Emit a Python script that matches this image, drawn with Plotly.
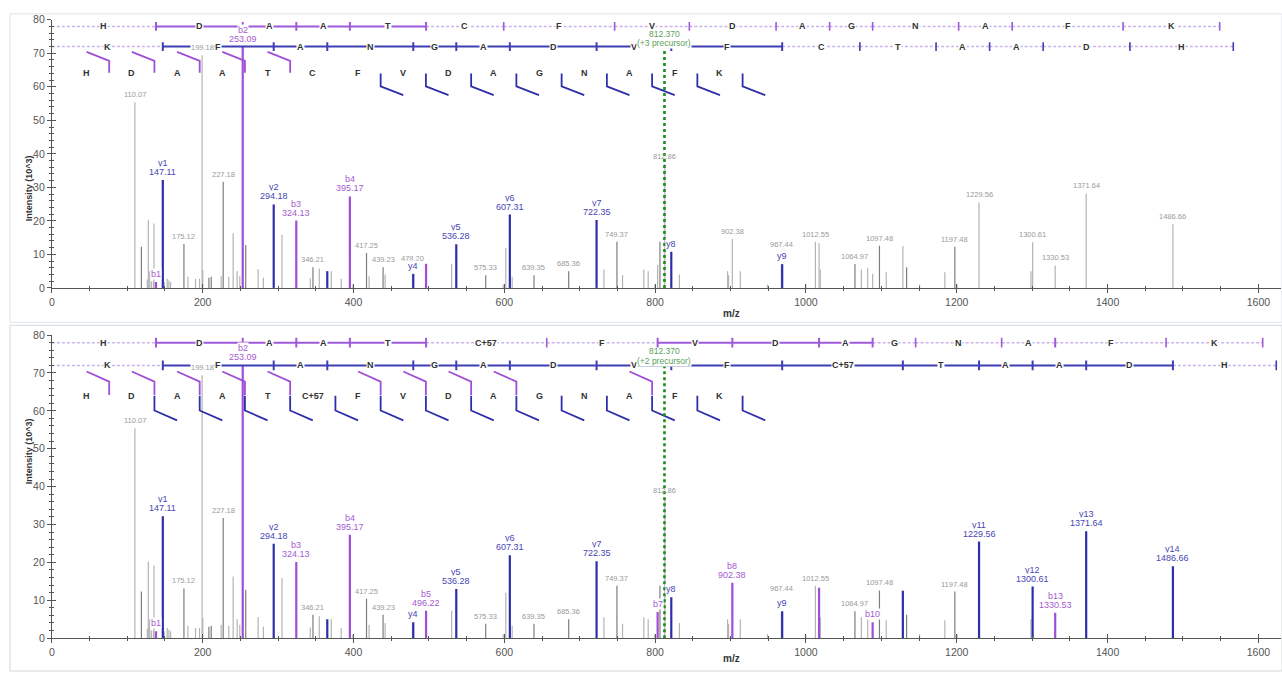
import plotly.graph_objects as go

FIG_W, FIG_H = 1282, 679
FONT = "Arial"

# ---------------- spectrum (same peaks in both panels) ----------------
peak_mz = [110.07, 118.7, 126.6, 127.9, 129.7, 131.9, 134.6, 135.4, 138.07, 147.11,
           149.0, 153.0, 155.2, 157.4, 175.12, 180.4, 190.5, 195.8, 199.18, 200.1,
           208.2, 211.3, 224.5, 227.18, 234.6, 240.4, 245.7, 249.2, 253.09, 257.1,
           273.5, 280.5, 294.18, 305.2, 324.13, 342.7, 346.21, 354.6, 365.22, 370.5,
           383.7, 395.17, 399.2, 417.25, 420.7, 439.23, 441.9, 478.20, 479.26, 496.22,
           530.2, 536.28, 575.33, 598.5, 602.0, 607.31, 610.4, 639.35, 685.36, 722.35,
           732.1, 749.37, 756.8, 785.0, 790.8, 799.5, 803.32, 806.4, 812.86, 821.42,
           832.2, 896.1, 897.4, 902.38, 912.9, 949.0, 967.44, 968.49, 999.9, 1012.55,
           1017.41, 1019.0, 1064.97, 1073.5, 1081.9, 1088.45, 1097.48, 1106.5, 1128.52, 1133.5,
           1150.7, 1184.2, 1197.48, 1200.5, 1229.56, 1298.4, 1300.61, 1330.53, 1371.64, 1486.66]
peak_int = [55.4, 12.3, 2.5, 20.2, 5.0, 2.0, 2.0, 19.2, 1.8, 32.2,
            1.8, 2.7, 2.2, 1.8, 13.1, 3.3, 2.7, 2.7, 69.4, 5.3,
            3.0, 3.3, 3.5, 31.7, 3.3, 16.3, 5.0, 3.5, 72.0, 12.8,
            5.6, 3.0, 24.9, 15.9, 20.1, 2.8, 6.2, 5.8, 5.0, 5.0,
            2.7, 27.3, 1.0, 10.4, 3.5, 6.2, 4.0, 4.0, 4.2, 7.2,
            7.2, 13.0, 3.8, 1.0, 12.0, 21.9, 3.3, 3.8, 5.0, 20.3,
            5.5, 13.8, 3.8, 5.5, 5.0, 1.0, 6.9, 13.8, 37.0, 10.8,
            4.0, 5.0, 3.8, 14.6, 5.0, 1.0, 6.8, 7.1, 1.0, 13.8,
            13.3, 5.5, 7.1, 5.5, 5.9, 4.2, 12.6, 4.7, 12.5, 6.2,
            1.0, 4.7, 12.3, 1.0, 25.5, 5.0, 13.6, 6.7, 28.2, 19.0]
# peaks drawn in a darker grey
dark_grey_mz = [118.7, 175.12, 208.2, 211.3, 227.18, 257.1, 346.21, 417.25, 439.23, 575.33,
                639.35, 685.36, 749.37, 806.4, 1064.97, 1097.48, 1133.5, 1197.48]

precursor_mz = 812.370
precursor_label = ["(+3 precursor)", "(+2 precursor)"]

# ---------------- peptide / fragment ladders ----------------
residues_top = ["H", "D", "A", "A", "T", "C", "F", "V", "D", "A", "G", "N", "A", "F", "K"]
residues_bot = ["H", "D", "A", "A", "T", "C+57", "F", "V", "D", "A", "G", "N", "A", "F", "K"]
b_ladder_top = [0, 138.07, 253.09, 324.13, 395.17, 496.22, 599.22, 746.29, 845.36, 960.39,
                1031.43, 1088.45, 1202.49, 1273.53, 1420.60, 1548.69]
y_ladder_top = [0, 147.11, 294.18, 365.22, 479.26, 536.28, 607.32, 722.35, 821.42, 968.48,
                1071.49, 1172.54, 1243.58, 1314.62, 1429.64, 1566.70]
b_ladder_bot = [0, 138.07, 253.09, 324.13, 395.17, 496.22, 656.25, 803.31, 902.38, 1017.41,
                1088.45, 1145.47, 1259.51, 1330.55, 1477.62, 1605.71]
y_ladder_bot = [0, 147.11, 294.18, 365.22, 479.26, 536.28, 607.32, 722.35, 821.42, 968.48,
                1128.52, 1229.56, 1300.60, 1371.64, 1486.66, 1623.72]

# matched ions: name, peak m/z, name shown, m/z shown
top_b_names = ["b1", "b2", "b3", "b4", "b5"]
top_b_mz = [138.07, 253.09, 324.13, 395.17, 496.22]
top_b_show_name = [True, True, True, True, False]
top_b_show_mz = [False, True, True, True, False]
top_y_names = ["y1", "y2", "y3", "y4", "y5", "y6", "y7", "y8", "y9"]
top_y_mz = [147.11, 294.18, 365.22, 479.26, 536.28, 607.31, 722.35, 821.42, 968.49]
top_y_show_name = [True, True, False, True, True, True, True, True, True]
top_y_show_mz = [True, True, False, False, True, True, True, False, False]

bot_b_names = ["b1", "b2", "b3", "b4", "b5", "b7", "b8", "b9", "b10", "b13"]
bot_b_mz = [138.07, 253.09, 324.13, 395.17, 496.22, 803.32, 902.38, 1017.41, 1088.45, 1330.53]
bot_b_show_name = [True, True, True, True, True, True, True, False, True, True]
bot_b_show_mz = [False, True, True, True, True, False, True, False, False, True]
bot_y_names = ["y1", "y2", "y3", "y4", "y5", "y6", "y7", "y8", "y9", "y10", "y11", "y12", "y13", "y14"]
bot_y_mz = [147.11, 294.18, 365.22, 479.26, 536.28, 607.31, 722.35, 821.42, 968.49, 1128.52,
            1229.56, 1300.61, 1371.64, 1486.66]
bot_y_show_name = [True, True, False, True, True, True, True, True, True, False, True, True, True, True]
bot_y_show_mz = [True, True, False, False, True, True, True, False, False, False, True, True, True, True]

grey_label_mz_top = [110.07, 175.12, 199.18, 227.18, 346.21, 417.25, 439.23, 478.20, 575.33,
                     639.35, 685.36, 749.37, 812.86, 902.38, 967.44, 1012.55, 1064.97, 1097.48,
                     1197.48, 1229.56, 1300.61, 1330.53, 1371.64, 1486.66]
grey_label_mz_bot = [110.07, 175.12, 199.18, 227.18, 346.21, 417.25, 439.23, 575.33, 639.35,
                     685.36, 749.37, 812.86, 967.44, 1012.55, 1064.97, 1097.48, 1197.48]
stacked_top = {478.20: 9, 967.44: 13}
stacked_bot = {967.44: 16}

# ---------------- styles ----------------
C_GREY = "#b4b4b4"
C_GREY_DARK = "#7d7d7d"
C_GREY_TXT = "#9a9a9a"
C_BLUE = "#2e2eaa"
C_PURPLE = "#a04ed6"
C_BLUE_TXT = "#4646b4"
C_PURPLE_TXT = "#a55bd0"
C_ROW_B = "#9e5ad8"
C_ROW_Y = "#3e3eb4"
C_ROW_DASH = "#c9b5ec"
C_GREEN = "#1e8c1e"
AXIS_C = "#555555"
ROW_DASH = "3px,2px"

X_RANGE = [0, 1630]
XDOM = [49 / FIG_W, 1281 / FIG_W]
YDOM_TOP = [1 - 287 / FIG_H, 1 - 14 / FIG_H]
YDOM_BOT = [1 - 643.5 / FIG_H, 1 - 335 / FIG_H]

ROW_B_Y, ROW_Y_Y = 78.0, 72.0
GRID_Y = 64.0
GRID_X0, GRID_STEP = 46.0, 60.0

intensity_of = dict(zip(peak_mz, peak_int))

fig = go.Figure()
annotations = []
shapes = []


def stems(mzs):
    xs, ys = [], []
    for m in mzs:
        xs += [m, m, None]
        ys += [0, intensity_of[m], None]
    return xs, ys


def add_line(xs, ys, xa, ya, color, width, dash="solid"):
    fig.add_trace(go.Scatter(x=xs, y=ys, mode="lines", xaxis=xa, yaxis=ya,
                             line=dict(color=color, width=width, dash=dash),
                             hoverinfo="skip", showlegend=False))


def txt(x, y, text, xa, ya, size, color, bold=False, bg=None, yshift=0, yanchor="middle"):
    annotations.append(dict(
        x=x, y=y, xref=xa, yref=ya, text=("<b>%s</b>" % text) if bold else text,
        showarrow=False, font=dict(family=FONT, size=size, color=color),
        bgcolor=bg if bg else "rgba(0,0,0,0)", borderpad=0,
        yshift=yshift, yanchor=yanchor, xanchor="center"))


def panel(xa, ya, residues, b_ladder, y_ladder, b_names, b_mz, b_sn, b_sm,
          y_names, y_mz, y_sn, y_sm, grey_labels, stacked, prec_text):
    xref, yref = xa, ya
    colored = set(b_mz) | set(y_mz)
    grey = [m for m in peak_mz if m not in colored and m not in dark_grey_mz]
    dgrey = [m for m in peak_mz if m not in colored and m in dark_grey_mz]
    gx, gy = stems(grey)
    add_line(gx, gy, xa, ya, C_GREY, 1.2)
    gx, gy = stems(dgrey)
    add_line(gx, gy, xa, ya, C_GREY_DARK, 1.2)
    bx, by = stems(b_mz)
    add_line(bx, by, xa, ya, C_PURPLE, 2.2)
    yx, yy = stems(y_mz)
    add_line(yx, yy, xa, ya, C_BLUE, 2.2)

    # sequence ladders
    b_obs = set(int(n[1:]) for n in b_names)
    y_obs = set(int(n[1:]) for n in y_names)
    for ladder, obs, row_y, letters, col in ((b_ladder, b_obs, ROW_B_Y, residues, C_ROW_B),
                                             (y_ladder, y_obs, ROW_Y_Y, residues[::-1], C_ROW_Y)):
        sx, sy, dx, dy = [], [], [], []
        for k in range(len(letters)):
            x0, x1 = ladder[k], ladder[k + 1]
            if k in obs and (k + 1) in obs:
                sx += [x0, x1, None]
                sy += [row_y, row_y, None]
            else:
                dx += [x0, x1, None]
                dy += [row_y, row_y, None]
        add_line(dx, dy, xa, ya, C_ROW_DASH, 1.5, ROW_DASH)
        add_line(sx, sy, xa, ya, col, 2)
        tx_o, ty_o, tx_n, ty_n = [], [], [], []
        for k in range(1, len(ladder)):
            if k in obs:
                tx_o += [ladder[k], ladder[k], None]
                ty_o += [row_y - 1.3, row_y + 1.3, None]
            else:
                tx_n += [ladder[k], ladder[k], None]
                ty_n += [row_y - 1.3, row_y + 1.3, None]
        add_line(tx_n, ty_n, xa, ya, col, 1.6)
        add_line(tx_o, ty_o, xa, ya, col, 2)
        for k, lt in enumerate(letters):
            mid = 0.5 * (ladder[k] + ladder[k + 1])
            txt(mid, row_y, lt, xref, yref, 9, "#333333", bold=True, bg="white")

    # cleavage grid
    grid_x = [GRID_X0 + GRID_STEP * i for i in range(len(residues))]
    for i, lt in enumerate(residues):
        txt(grid_x[i], GRID_Y, lt, xref, yref, 9, "#333333", bold=True)
    mx, my = [], []
    for k in sorted(b_obs):
        g = grid_x[k - 1] + GRID_STEP / 2
        mx += [grid_x[k - 1], g, g, None]
        my += [70.4, 67.7, 64.2, None]
    add_line(mx, my, xa, ya, C_PURPLE, 1.8)
    mx, my = [], []
    n = len(residues)
    for j in sorted(y_obs):
        g = grid_x[n - j] + GRID_STEP / 2
        mx += [g, g, g + GRID_STEP / 2, None]
        my += [64.0, 60.1, 57.5, None]
    add_line(mx, my, xa, ya, C_BLUE, 1.8)

    # grey peak labels
    for m in grey_labels:
        extra = stacked.get(m, 0)
        bg = None if abs(m - precursor_mz) < 2 else "white"
        txt(m, intensity_of[m], "%.2f" % m, xref, yref, 7.5, C_GREY_TXT, bg=bg,
            yshift=2 + extra, yanchor="bottom")

    # ion labels
    for names, mzs, sn, sm, col in ((b_names, b_mz, b_sn, b_sm, C_PURPLE_TXT),
                                    (y_names, y_mz, y_sn, y_sm, C_BLUE_TXT)):
        for nm, m, s1, s2 in zip(names, mzs, sn, sm):
            inten = intensity_of[m]
            if s1:
                txt(m, inten, nm, xref, yref, 9, col, bg="white",
                    yshift=(11 if s2 else 2), yanchor="bottom")
            if s2:
                txt(m, inten, "%.2f" % m, xref, yref, 9, col, bg="white",
                    yshift=2, yanchor="bottom")

    # precursor
    add_line([precursor_mz, precursor_mz], [0, 71.8], xa, ya, C_GREEN, 2.6, "dot")
    txt(precursor_mz, 75.7, "%.3f" % precursor_mz, xref, yref, 8.5, "#5a9f5a")
    txt(precursor_mz, 73.2, prec_text, xref, yref, 8.5, "#5a9f5a", bg="white")


panel("x", "y", residues_top, b_ladder_top, y_ladder_top,
      top_b_names, top_b_mz, top_b_show_name, top_b_show_mz,
      top_y_names, top_y_mz, top_y_show_name, top_y_show_mz,
      grey_label_mz_top, stacked_top, precursor_label[0])
panel("x2", "y2", residues_bot, b_ladder_bot, y_ladder_bot,
      bot_b_names, bot_b_mz, bot_b_show_name, bot_b_show_mz,
      bot_y_names, bot_y_mz, bot_y_show_name, bot_y_show_mz,
      grey_label_mz_bot, stacked_bot, precursor_label[1])

# dummy traces for inside-tick overlay axes
fig.add_trace(go.Scatter(x=[None], y=[None], xaxis="x3", yaxis="y3", showlegend=False, hoverinfo="skip"))
fig.add_trace(go.Scatter(x=[None], y=[None], xaxis="x4", yaxis="y4", showlegend=False, hoverinfo="skip"))

x_ticks = list(range(0, 1601, 200))
y_ticks = list(range(0, 81, 10))


def xaxis(anchor, labels=True, ticks="outside", overlay=None):
    d = dict(domain=XDOM, range=X_RANGE, anchor=anchor, showgrid=False, zeroline=False,
             tickmode="array", tickvals=x_ticks, ticks=ticks, ticklen=4, tickcolor=AXIS_C,
             showline=labels, linecolor=AXIS_C, linewidth=1, showticklabels=labels,
             tickfont=dict(family=FONT, size=10.5, color="#555555"),
             minor=dict(ticks=ticks, ticklen=2, dtick=50, tick0=0, tickcolor=AXIS_C))
    if overlay:
        d["overlaying"] = overlay
    return d


def yaxis(anchor, dom, labels=True, ticks="outside", overlay=None):
    d = dict(domain=dom, range=[0, 80], anchor=anchor, showgrid=False, zeroline=False,
             tickmode="array", tickvals=y_ticks, ticks=ticks, ticklen=4, tickcolor=AXIS_C,
             showline=labels, linecolor=AXIS_C, linewidth=1, showticklabels=labels,
             tickfont=dict(family=FONT, size=10.5, color="#555555"),
             minor=dict(ticks=ticks, ticklen=2, dtick=2, tick0=0, tickcolor=AXIS_C))
    if overlay:
        d["overlaying"] = overlay
    return d


# axis titles
for yc in (1 - 150 / FIG_H, 1 - 489 / FIG_H):
    annotations.append(dict(x=19 / FIG_W, y=yc, xref="paper", yref="paper",
                            text="<b>Intensity (10^3)</b>", textangle=-90, showarrow=False,
                            font=dict(family=FONT, size=9, color="#333333")))
for yc, xa in ((1 - 313 / FIG_H, "x"), (1 - 672 / FIG_H, "x2")):
    annotations.append(dict(x=901, y=yc, xref=xa, yref="paper", text="<b>m/z</b>",
                            showarrow=False, font=dict(family=FONT, size=10, color="#333333")))

# panel frames
shapes.append(dict(type="rect", xref="paper", yref="paper", x0=7 / FIG_W, x1=1.0,
                   y0=1 - 322 / FIG_H, y1=1 - 8 / FIG_H, line=dict(color="#dfe5ec", width=1),
                   layer="below"))
shapes.append(dict(type="rect", xref="paper", yref="paper", x0=7 / FIG_W, x1=1.0,
                   y0=1 - 677 / FIG_H, y1=1 - 325 / FIG_H, line=dict(color="#d4d8dd", width=1),
                   layer="below"))

fig.update_layout(
    width=FIG_W, height=FIG_H, autosize=False,
    margin=dict(l=0, r=0, t=0, b=0),
    paper_bgcolor="white", plot_bgcolor="white",
    showlegend=False,
    xaxis=xaxis("y"), yaxis=yaxis("x", YDOM_TOP),
    xaxis2=xaxis("y2"), yaxis2=yaxis("x2", YDOM_BOT),
    xaxis3=xaxis("y3", labels=False, ticks="inside", overlay="x"),
    yaxis3=yaxis("x3", YDOM_TOP, labels=False, ticks="inside", overlay="y"),
    xaxis4=xaxis("y4", labels=False, ticks="inside", overlay="x2"),
    yaxis4=yaxis("x4", YDOM_BOT, labels=False, ticks="inside", overlay="y2"),
    annotations=annotations, shapes=shapes,
)

fig.write_html("out.html", config={"displayModeBar": False},
               post_script="document.body.style.margin='0';document.body.style.overflow='hidden';")
